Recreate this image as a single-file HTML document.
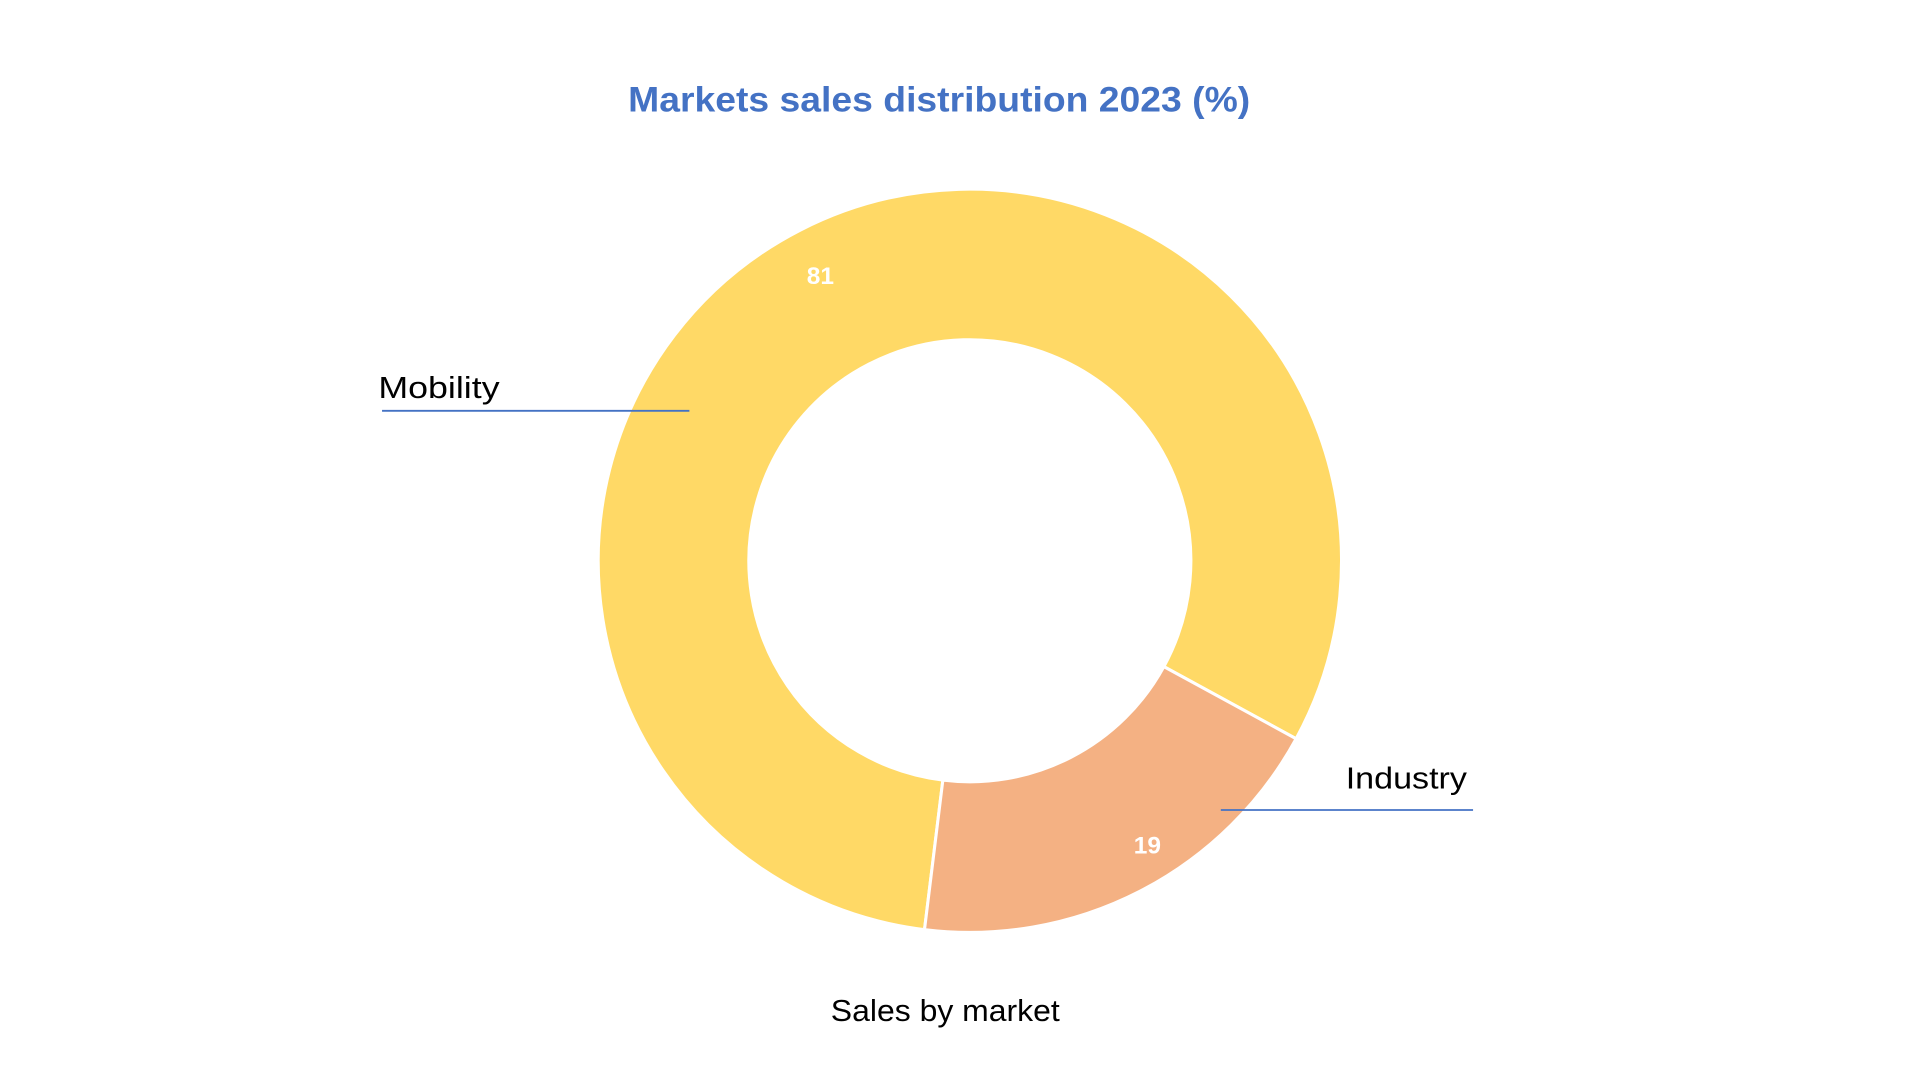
<!DOCTYPE html>
<html><head><meta charset="utf-8"><style>html,body{margin:0;padding:0;background:#fff;}svg{display:block;}</style></head>
<body>
<svg width="1920" height="1080" viewBox="0 0 1568 882" xmlns="http://www.w3.org/2000/svg" font-family="'Liberation Sans', sans-serif">
<rect width="1568" height="882" fill="#fff"/>
<text x="767" y="91" text-anchor="middle" font-size="29" font-weight="bold" fill="#4472C4" textLength="508" lengthAdjust="spacingAndGlyphs">Markets sales distribution 2023 (%)</text>
<path d="M755,759.2 A303.5,303.5 0 1 1 1058.5,603.3 L950.5,544.4 A180.5,180.5 0 1 0 770,637.1 Z" fill="#FFD966" stroke="#fff" stroke-width="2.5"/>
<path d="M1058.5,603.3 A303.5,303.5 0 0 1 755,759.2 L770,637.1 A180.5,180.5 0 0 0 950.5,544.4 Z" fill="#F4B183" stroke="#fff" stroke-width="2.5"/>
<text x="670" y="232" text-anchor="middle" font-size="20" font-weight="bold" fill="#fff">81</text>
<text x="937" y="697" text-anchor="middle" font-size="20" font-weight="bold" fill="#fff">19</text>
<text x="309" y="325" font-size="25" fill="#000" textLength="99" lengthAdjust="spacingAndGlyphs">Mobility</text>
<line x1="312" y1="335.5" x2="563" y2="335.5" stroke="#4472C4" stroke-width="1.5"/>
<text x="1099" y="644" font-size="25" fill="#000" textLength="99" lengthAdjust="spacingAndGlyphs">Industry</text>
<line x1="997" y1="661.5" x2="1203" y2="661.5" stroke="#4472C4" stroke-width="1.5"/>
<text x="772" y="834" text-anchor="middle" font-size="25" fill="#000" textLength="187" lengthAdjust="spacingAndGlyphs">Sales by market</text>
</svg>
</body></html>
